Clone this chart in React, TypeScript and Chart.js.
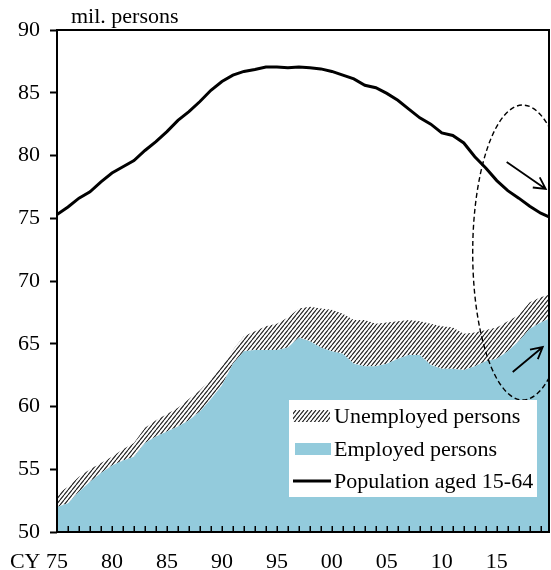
import React, { useEffect, useRef } from 'react';
import { Chart, registerables } from 'chart.js';

Chart.register(...registerables);

// ---------- data ----------
const years = [
  1975, 1976, 1977, 1978, 1979, 1980, 1981, 1982, 1983, 1984,
  1985, 1986, 1987, 1988, 1989, 1990, 1991, 1992, 1993, 1994,
  1995, 1996, 1997, 1998, 1999, 2000, 2001, 2002, 2003, 2004,
  2005, 2006, 2007, 2008, 2009, 2010, 2011, 2012, 2013, 2014,
  2015, 2016, 2017, 2018, 2019, 2019.75,
];

// Population aged 15-64 (mil. persons)
const population = [
  75.3, 75.9, 76.6, 77.1, 77.9, 78.6, 79.1, 79.6, 80.4, 81.1,
  81.9, 82.8, 83.5, 84.3, 85.2, 85.9, 86.4, 86.7, 86.85, 87.05,
  87.05, 87.0, 87.05, 87.0, 86.9, 86.7, 86.4, 86.1, 85.6, 85.4,
  84.95, 84.4, 83.7, 83.0, 82.5, 81.8, 81.6, 81.0, 79.9, 79.0,
  78.0, 77.2, 76.6, 75.95, 75.4, 75.1,
];

// Employed persons (mil. persons)
const employed = [
  52.0, 52.3, 53.2, 54.0, 54.7, 55.3, 55.7, 56.0, 57.1, 57.6,
  58.0, 58.4, 58.9, 59.6, 60.6, 61.7, 63.4, 64.4, 64.5, 64.5,
  64.5, 64.7, 65.5, 65.2, 64.7, 64.4, 64.2, 63.4, 63.2, 63.2,
  63.4, 63.8, 64.1, 64.1, 63.3, 63.0, 63.0, 62.9, 63.2, 63.6,
  63.8, 64.4, 65.2, 66.2, 66.7, 67.0,
];

// Employed + unemployed persons (labour force, mil. persons)
const laborForce = [
  53.0, 53.6, 54.4, 55.0, 55.5, 56.0, 56.6, 57.1, 58.3, 58.9,
  59.4, 59.9, 60.6, 61.3, 62.2, 63.2, 64.5, 65.6, 66.0, 66.4,
  66.6, 67.1, 67.8, 67.95, 67.8, 67.7, 67.4, 66.9, 66.9, 66.6,
  66.7, 66.8, 66.9, 66.8, 66.6, 66.4, 66.3, 65.8, 65.9, 66.1,
  66.3, 66.8, 67.3, 68.3, 68.7, 68.9,
];

const xLabelYears = [1975, 1980, 1985, 1990, 1995, 2000, 2005, 2010, 2015];
const yMin = 50;
const yMax = 90;
const yStep = 5;

const legendLabels = ['Unemployed persons', 'Employed persons', 'Population aged 15-64'];
const unitLabel = 'mil. persons';
const firstLabelPrefix = 'CY';

// annotations in data units
const ellipseNote = { cx: 2017.36, cy: 72.27, rx: 4.55, ry: 11.75 };
const arrowDown = { x1: 2015.9, y1: 79.48, x2: 2019.45, y2: 77.33 };
const arrowUp = { x1: 2016.45, y1: 62.75, x2: 2019.18, y2: 64.74 };

// ---------- styles ----------
const FONT = "'Liberation Serif', 'Times New Roman', serif";
const BLUE = '#93CBDC';
const X_AXIS_HEIGHT = 38;
const Y_AXIS_WIDTH = 39;
const X_LABEL_PAD = 22;
const X_LABEL_LH = 16;

function makeHatch(ctx: CanvasRenderingContext2D) {
  const w = 4, h = 5;
  const c = document.createElement('canvas');
  c.width = w; c.height = h;
  const g = c.getContext('2d')!;
  g.fillStyle = '#ffffff';
  g.fillRect(0, 0, w, h);
  g.strokeStyle = '#1e1e1e';
  g.lineWidth = 1.1;
  g.beginPath();
  g.moveTo(0, h); g.lineTo(w, 0);
  g.moveTo(-w, h); g.lineTo(0, 0);
  g.moveTo(w, h); g.lineTo(2 * w, 0);
  g.stroke();
  return ctx.createPattern(c, 'repeat')!;
}

function drawArrow(ctx: CanvasRenderingContext2D, x1: number, y1: number, x2: number, y2: number) {
  const ang = Math.atan2(y2 - y1, x2 - x1);
  const len = 13;
  const spread = (28 * Math.PI) / 180;
  ctx.beginPath();
  ctx.moveTo(x1, y1);
  ctx.lineTo(x2, y2);
  ctx.moveTo(x2 - len * Math.cos(ang - spread), y2 - len * Math.sin(ang - spread));
  ctx.lineTo(x2, y2);
  ctx.lineTo(x2 - len * Math.cos(ang + spread), y2 - len * Math.sin(ang + spread));
  ctx.stroke();
}

const decorPlugin = {
  id: 'decor',
  afterDatasetsDraw(chart: any) {
    const { ctx, chartArea: ca } = chart;
    const xs = chart.scales.x;
    const ys = chart.scales.y;
    ctx.save();

    // minor yearly ticks pointing up from the x axis
    ctx.strokeStyle = '#000';
    ctx.lineWidth = 1.5;
    ctx.beginPath();
    years.filter((y) => Number.isInteger(y) && y > years[0]).forEach((y) => {
      const px = Math.round(xs.getPixelForValue(y)) + 0.25;
      ctx.moveTo(px, ca.bottom);
      ctx.lineTo(px, ca.bottom - 6);
    });
    ctx.stroke();

    // frame
    ctx.lineWidth = 2;
    ctx.strokeRect(ca.left, ca.top, ca.right - ca.left, ca.bottom - ca.top);

    // dashed ellipse (clipped to the plot)
    ctx.save();
    ctx.beginPath();
    ctx.rect(ca.left, ca.top, ca.right - ca.left, ca.bottom - ca.top);
    ctx.clip();
    const cx = xs.getPixelForValue(ellipseNote.cx);
    const cy = ys.getPixelForValue(ellipseNote.cy);
    const rx = xs.getPixelForValue(ellipseNote.cx + ellipseNote.rx) - cx;
    const ry = cy - ys.getPixelForValue(ellipseNote.cy + ellipseNote.ry);
    ctx.setLineDash([5, 3]);
    ctx.lineWidth = 1.4;
    ctx.beginPath();
    ctx.ellipse(cx, cy, rx, ry, 0, 0, Math.PI * 2);
    ctx.stroke();
    ctx.restore();

    // arrows
    ctx.lineWidth = 1.8;
    ctx.setLineDash([]);
    [arrowDown, arrowUp].forEach((a) => {
      drawArrow(
        ctx,
        xs.getPixelForValue(a.x1), ys.getPixelForValue(a.y1),
        xs.getPixelForValue(a.x2), ys.getPixelForValue(a.y2)
      );
    });

    ctx.restore();
  },
  afterDraw(chart: any) {
    const { ctx, chartArea: ca } = chart;
    const xs = chart.scales.x;
    ctx.save();
    ctx.font = `22px ${FONT}`;
    ctx.fillStyle = '#000';
    ctx.textBaseline = 'alphabetic';

    // unit label
    ctx.textAlign = 'left';
    ctx.fillText(unitLabel, 71, 23);

    // "CY" prefix before the first x label
    const first = String(xLabelYears[0] % 100).padStart(2, '0');
    const fx = xs.getPixelForValue(xLabelYears[0]);
    const wFirst = ctx.measureText(first).width;
    const wSpace = ctx.measureText(' ').width;
    ctx.textAlign = 'right';
    ctx.textBaseline = 'middle';
    ctx.fillText(firstLabelPrefix, fx - wFirst / 2 - wSpace, ca.bottom + X_LABEL_PAD + X_LABEL_LH / 2);

    // legend
    const lx = 289, ly = 400, lw = 248, lh = 97;
    ctx.fillStyle = '#fff';
    ctx.fillRect(lx, ly, lw, lh);
    const rows = [416, 449, 481];
    ctx.fillStyle = (chart as any).$hatch;
    ctx.fillRect(293, rows[0] - 6, 37, 12);
    ctx.fillStyle = BLUE;
    ctx.fillRect(295, rows[1] - 6, 36, 12);
    ctx.strokeStyle = '#000';
    ctx.lineWidth = 3;
    ctx.beginPath();
    ctx.moveTo(293, rows[2]);
    ctx.lineTo(331, rows[2]);
    ctx.stroke();
    ctx.fillStyle = '#000';
    ctx.textAlign = 'left';
    ctx.textBaseline = 'alphabetic';
    legendLabels.forEach((t, i) => ctx.fillText(t, 334, rows[i] + 7));
    ctx.restore();
  },
};

export default function App() {
  const ref = useRef<HTMLCanvasElement | null>(null);

  useEffect(() => {
    document.body.style.margin = '0';
    const canvas = ref.current!;
    const ctx = canvas.getContext('2d')!;
    const hatch = makeHatch(ctx);
    Chart.defaults.font.family = FONT;
    Chart.defaults.color = '#000';

    const chart = new Chart(ctx, {
      type: 'line',
      data: {
        datasets: [
          {
            label: legendLabels[2],
            data: years.map((x, i) => ({ x, y: population[i] })),
            borderColor: '#000',
            borderWidth: 3,
            pointRadius: 0,
            fill: false,
            tension: 0,
          },
          {
            label: legendLabels[1],
            data: years.map((x, i) => ({ x, y: employed[i] })),
            borderWidth: 0,
            borderColor: 'rgba(0,0,0,0)',
            backgroundColor: BLUE,
            pointRadius: 0,
            fill: 'start',
            tension: 0,
          },
          {
            label: legendLabels[0],
            data: years.map((x, i) => ({ x, y: laborForce[i] })),
            borderWidth: 0,
            borderColor: 'rgba(0,0,0,0)',
            backgroundColor: hatch,
            pointRadius: 0,
            fill: '-1',
            tension: 0,
          },
        ],
      },
      options: {
        animation: false,
        responsive: false,
        devicePixelRatio: 1,
        layout: { padding: { left: 18, right: 2, top: 30, bottom: 0 } },
        plugins: {
          legend: { display: false },
          tooltip: { enabled: false },
        },
        scales: {
          x: {
            type: 'linear',
            min: years[0],
            max: years[years.length - 1],
            grid: { display: false, drawTicks: false, tickLength: 0 },
            border: { display: false },
            afterBuildTicks: (s: any) => {
              s.ticks = xLabelYears.map((v) => ({ value: v }));
            },
            afterFit: (s: any) => {
              s.height = X_AXIS_HEIGHT;
            },
            ticks: {
              autoSkip: false,
              maxRotation: 0,
              padding: X_LABEL_PAD,
              color: '#000',
              font: { size: 22, family: FONT, lineHeight: X_LABEL_LH / 22 },
              callback: (v: any) => String(Number(v) % 100).padStart(2, '0'),
            },
          },
          y: {
            min: yMin,
            max: yMax,
            border: { display: false },
            afterFit: (s: any) => {
              s.width = Y_AXIS_WIDTH;
            },
            grid: {
              drawOnChartArea: false,
              tickLength: 7,
              tickWidth: 2,
              tickColor: '#000',
            },
            ticks: {
              stepSize: yStep,
              padding: 10,
              color: '#000',
              font: { size: 22, family: FONT },
            },
          },
        },
      },
      plugins: [decorPlugin],
    });
    (chart as any).$hatch = hatch;
    chart.draw();

    return () => chart.destroy();
  }, []);

  return (
    <div style={{ width: 551, height: 570 }}>
      <canvas ref={ref} width={551} height={570} style={{ display: 'block' }} />
    </div>
  );
}
